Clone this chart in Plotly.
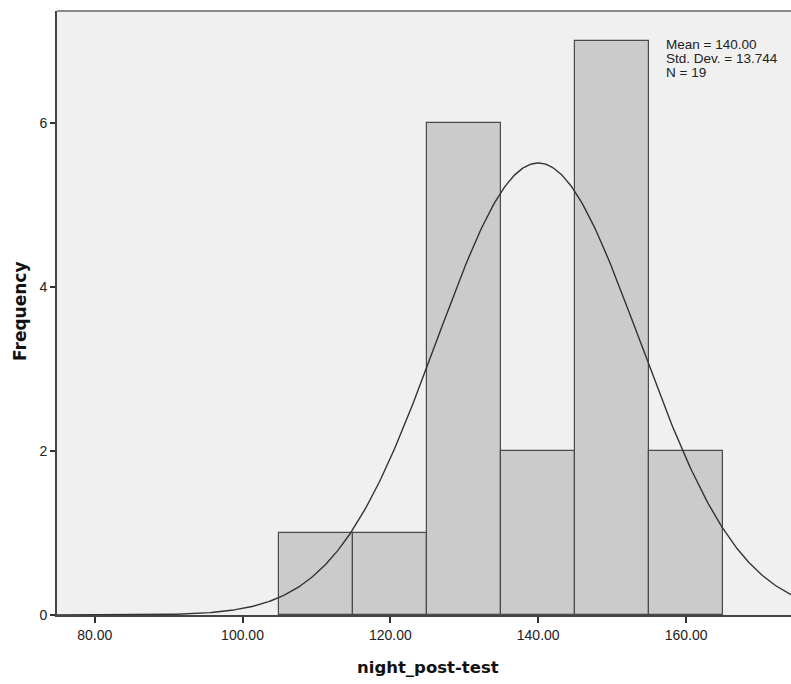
import numpy as np
import plotly.graph_objects as go

# Histogram data
bin_left = [105, 115, 125, 135, 145, 155]
bin_width = 10
counts = [1, 1, 6, 2, 7, 2]

# Summary statistics shown on chart
mean_val = 140.00
sd_val = 13.744
n_val = 19

x_ticks = [80, 100, 120, 140, 160]
x_tick_labels = ["80.00", "100.00", "120.00", "140.00", "160.00"]
y_ticks = [0, 2, 4, 6]

centers = [b + bin_width / 2 for b in bin_left]

X_RANGE = [74.9, 174.2]

# fitted normal curve from the displayed statistics
xs = np.linspace(X_RANGE[0], X_RANGE[1], 400)
ys = n_val * bin_width / (sd_val * np.sqrt(2 * np.pi)) * np.exp(-0.5 * ((xs - mean_val) / sd_val) ** 2)

fig = go.Figure()
fig.add_trace(go.Bar(
    x=centers, y=counts, width=bin_width,
    marker=dict(color="#CBCBCB", line=dict(color="#4a4a4a", width=1.2)),
    hoverinfo="skip",
))
fig.add_trace(go.Scatter(
    x=xs, y=ys, mode="lines",
    line=dict(color="#333333", width=1.4),
    hoverinfo="skip",
))

font_family = "Arial, Liberation Sans, sans-serif"
title_family = "DejaVu Sans, Verdana, sans-serif"

W, H = 791, 684
ML, MT, MB, MR = 57, 11, 69, 0
PW = W - ML - MR
PH = H - MT - MB

fig.update_layout(
    width=W, height=H,
    margin=dict(l=ML, r=MR, t=MT, b=MB),
    paper_bgcolor="white",
    plot_bgcolor="#F0F0F0",
    showlegend=False,
    bargap=0,
    font=dict(family=font_family, size=12, color="#222222"),
    xaxis=dict(
        range=X_RANGE,
        tickvals=x_ticks, ticktext=x_tick_labels,
        ticks="outside", ticklen=6, tickwidth=1.5, tickcolor="#333333",
        showgrid=False, zeroline=False,
        showline=True, linecolor="#444444", linewidth=2,
        tickfont=dict(size=14, color="#222222"),
    ),
    yaxis=dict(
        range=[0, 7.37],
        tickvals=y_ticks,
        ticks="outside", ticklen=5, tickwidth=1.5, tickcolor="#333333",
        showgrid=False, zeroline=False,
        showline=True, linecolor="#444444", linewidth=2,
        tickfont=dict(size=14, color="#222222"),
    ),
)

# top border of the plot frame
fig.add_shape(type="line", xref="paper", yref="paper", x0=0, x1=1, y0=1, y1=1,
              line=dict(color="#8a8a8a", width=2))

# axis titles (positioned in page pixels, converted to paper coords)
def px_to_paper(px, py):
    return (px - ML) / PW, (H - MB - py) / PH

tx, ty = px_to_paper(428, 667)
fig.add_annotation(text="<b>night_post-test</b>", xref="paper", yref="paper",
                   x=tx, y=ty, xanchor="center", yanchor="middle", showarrow=False,
                   font=dict(size=16.5, color="#111111", family=title_family))
tx, ty = px_to_paper(20, 311)
fig.add_annotation(text="<b>Frequency</b>", xref="paper", yref="paper",
                   x=tx, y=ty, xanchor="center", yanchor="middle", showarrow=False,
                   textangle=-90,
                   font=dict(size=17, color="#111111", family=title_family))

stats_lines = [f"Mean = {mean_val:.2f}", f"Std. Dev. = {sd_val:.3f}", f"N = {n_val}"]
for i, t in enumerate(stats_lines):
    sx, sy = px_to_paper(664, 44.5 + 14 * i)
    fig.add_annotation(
        text=t, xref="paper", yref="paper",
        x=sx, y=sy,
        xanchor="left", yanchor="middle", showarrow=False,
        font=dict(size=13.5, color="#222222", family=font_family),
    )

fig.write_html(
    "out.html",
    config={"displayModeBar": False},
    post_script="document.body.style.margin='0px';document.body.style.overflow='hidden';",
)
